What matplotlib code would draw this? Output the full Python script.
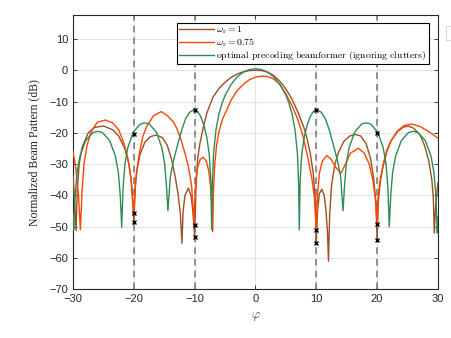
import numpy as np
import matplotlib
matplotlib.use('Agg')
import matplotlib.pyplot as plt
from matplotlib.patches import Rectangle

plt.rcParams['mathtext.fontset'] = 'cm'
plt.rcParams['font.family'] = ['Liberation Sans', 'DejaVu Sans']

# omega_r = 1 (brown)
brown_phi = [-30.0, -29.8, -29.5, -29.3, -29.0, -28.5, -27.5, -26.5, -25.0, -23.5, -22.5, -21.5, -20.8, -20.4, -20.0,
             -19.8, -19.5, -19.0, -18.2, -17.3, -16.3, -15.3, -14.5, -13.8, -13.2, -12.7, -12.35, -12.1,
             -11.9, -11.6, -11.05, -10.6, -10.3, -10.0,
             -9.8, -9.5, -9.1, -8.5, -8.0, -7.0, -6.0, -5.0, -4.0, -3.0, -2.0, -1.0, 0.0,
             1.0, 2.0, 3.0, 4.0, 5.0, 6.0, 7.0, 8.0, 8.5, 9.0, 9.5, 9.8, 10.0,
             10.2, 10.5, 10.9, 11.3, 11.6, 11.85, 12.0,
             12.2, 12.5, 13.0, 13.6, 14.5, 15.5, 16.4, 17.3, 18.2, 18.9, 19.4, 19.8, 20.0,
             20.2, 20.5, 21.0, 21.6, 22.3, 23.4, 24.3, 25.1, 26.0, 27.0, 27.8, 28.5, 29.0, 29.25, 29.4,
             29.6, 30.0]
brown_db = [-34, -40, -51.2, -38, -30, -24.5, -20, -18.3, -17.8, -19, -21, -25, -30, -36, -48.4,
            -38, -32, -27, -23, -21.2, -20.7, -21.5, -24, -28.5, -34, -40, -46, -55.3,
            -45, -40, -37.7, -40, -45, -53.2,
            -38, -28, -23, -17.5, -13.7, -8.6, -5.8, -3.8, -2.3, -1.2, -0.5, -0.1, 0.0,
            -0.1, -0.6, -1.7, -3.5, -6.0, -9.2, -13.5, -18.5, -22, -26.5, -33, -40, -55.3,
            -45, -39.5, -38, -40, -45, -52, -61,
            -46, -37, -30.5, -26.5, -22.8, -21, -20.5, -21, -23.5, -28, -34, -42, -54.2,
            -42, -36, -30.5, -26, -22.5, -19.5, -18.2, -17.8, -18.5, -20.5, -24, -29, -35, -41, -52,
            -44, -36]

# omega_r = 0.75 (orange)
orange_phi = [-30.0, -29.5, -29.1, -28.8, -28.5, -28.2, -27.7, -27.0, -26.0, -24.7, -23.5, -22.5, -21.7, -21.0, -20.5, -20.0,
              -19.7, -19.3, -19.0, -18.5, -17.9, -16.8, -15.5, -14.5, -13.5, -12.95, -12.2, -11.6, -11.0, -10.5, -10.1,
              -10.0, -9.8, -9.5, -9.1, -8.6, -8.1, -7.7, -7.4, -7.2, -7.04,
              -6.9, -6.7, -6.4, -6.0, -5.4, -4.73, -4.0, -3.0, -2.0, -1.0, 0.0, 1.0, 2.0, 3.0, 4.0, 5.0, 6.0, 7.0,
              7.8, 8.7, 9.3, 9.7, 10.0,
              10.2, 10.5, 11.0, 11.7, 12.4, 13.2, 14.06, 14.8, 15.6, 16.9, 17.9, 18.7, 19.3, 19.7, 20.0,
              20.2, 20.5, 21.0, 21.6, 22.3, 23.4, 24.5, 25.7, 27.0, 28.5, 30.0]
orange_db = [-26, -32, -40, -51, -38, -30, -24, -19.5, -16.6, -15.9, -16.8, -19, -23, -28, -34, -45.6,
             -35, -29, -25.5, -21, -18, -14.6, -13.2, -14.5, -16.5, -18.5, -22.5, -26.5, -31, -37, -49.4,
             -42, -35, -31, -28.5, -27.8, -29, -32, -37, -42, -51.6,
             -38, -30, -24, -19.5, -15.5, -12.7, -9.5, -6.5, -4.5, -3.0, -2.2, -1.9, -2.0, -2.8, -4.5, -7.5, -11.3, -15.9,
             -21, -28.7, -35, -41, -51.2,
             -40, -33, -29, -27.3, -28.3, -31, -32.9, -30, -26.5, -24.9, -26.5, -30, -35, -41, -49.1,
             -40, -35, -30, -25.5, -22.5, -19.3, -17.6, -17.2, -17.9, -19.6, -21.7]

# optimal precoding beamformer (green)
green_phi = [-30.0, -29.9, -29.66, -29.35, -28.87, -27.93, -26.74, -25.95, -25.16, -23.98, -23.03, -22.55, -22.24, -22.0,
             -21.77, -21.47, -21.01, -20.1, -18.96, -18.2, -17.44, -16.3, -15.39, -14.93, -14.63, -14.4,
             -14.0, -13.5, -12.9, -12.2, -11.5, -10.8, -10.1, -9.5, -9.0, -8.5, -8.0, -7.6, -7.35, -7.2,
             -7.1, -6.9, -6.5, -6.0, -5.5, -5.0, -4.0, -3.0, -2.0, -1.0, 0.0,
             1.0, 2.0, 3.0, 4.0, 5.0, 5.5, 6.0, 6.5, 6.9, 7.1,
             7.2, 7.35, 7.6, 8.0, 8.5, 9.0, 9.5, 10.1, 10.8, 11.5, 12.2, 12.9, 13.5, 14.0,
             14.4, 14.63, 14.93, 15.39, 16.3, 17.44, 18.2, 18.96, 20.1, 21.01, 21.47, 21.77,
             22.0, 22.24, 22.55, 23.03, 23.98, 25.16, 25.95, 26.74, 27.93, 28.87, 29.35, 29.66, 29.9, 30.0]
green_db = [-46, -51, -40, -32.7, -27.5, -22.5, -19.9, -19.5, -19.9, -22.5, -27.5, -32.7, -40, -50.2,
            -37.3, -30, -24.8, -19.8, -17.2, -16.8, -17.2, -19.8, -24.8, -30, -37.3, -44.9,
            -34, -29, -24.5, -19.5, -15.5, -13.4, -12.6, -13.2, -14.8, -17.5, -21.5, -27, -35, -51,
            -37, -26.7, -19, -13.9, -10.5, -8.0, -4.5, -2.1, -0.6, 0.2, 0.5,
            0.2, -0.6, -2.1, -4.5, -8.0, -10.5, -13.9, -19, -26.7, -37,
            -51, -35, -27, -21.5, -17.5, -14.8, -13.2, -12.6, -13.4, -15.5, -19.5, -24.5, -29, -34,
            -44.9, -37.3, -30, -24.8, -19.8, -17.2, -16.8, -17.2, -19.8, -24.8, -30, -37.3,
            -50, -40, -32.7, -27.5, -22.5, -19.9, -19.5, -19.9, -22.5, -27.5, -32.7, -40, -52, -47]

# clutter / target directions and the marked values
mark_phi = [-20, -20, -20, -10, -10, -10, 10, 10, 10, 20, 20, 20]
mark_db = [-20.3, -45.6, -48.4, -12.7, -49.4, -53.2, -12.7, -51.2, -55.3, -20.1, -49.1, -54.2]
vline_phi = [-20, -10, 10, 20]

fig = plt.figure(figsize=(4.51, 3.38), dpi=100)
ax = fig.add_axes([0.162, 0.144, 0.809, 0.812])

for v in vline_phi:
    ax.axvline(v, color='#7f7f7f', linestyle=(0, (4, 3)), linewidth=1.2, zorder=1)

ax.plot(brown_phi, brown_db, color='#9c4f24', linewidth=1.0, label=r'$\omega_{\mathrm{r}} = 1$', zorder=3)
ax.plot(orange_phi, orange_db, color='#ff4500', linewidth=1.0, label=r'$\omega_{\mathrm{r}} = 0.75$', zorder=3)
ax.plot(green_phi, green_db, color='#2e8b57', linewidth=1.0,
        label=r'$\mathrm{optimal\ precoding\ beamformer\ (ignoring\ clutters)}$', zorder=4)
ax.plot(mark_phi, mark_db, 'x', color='black', markersize=3.5, markeredgewidth=1.0, zorder=5)

ax.set_xlim(-30, 30)
ax.set_ylim(-70, 17.7)
ax.set_xticks(np.arange(-30, 31, 10))
ax.set_yticks(np.arange(-70, 11, 10))
ax.grid(True, color='#e3e3e3', linewidth=0.8, zorder=0)
ax.set_axisbelow(True)
ax.tick_params(direction='in', top=True, right=True, labelsize=8, length=3, width=0.6, colors='#262626')
for s in ax.spines.values():
    s.set_linewidth(0.8)
    s.set_color('#262626')

ax.set_xlabel(r'$\varphi$', fontsize=9, color='#444444')
ax.set_ylabel('Normalized Beam Pattern (dB)', family='Liberation Serif', fontsize=8.5, color='#262626')
ax.yaxis.set_label_coords(-0.09, 0.5)

leg = ax.legend(loc='upper right', bbox_to_anchor=(0.975, 0.971), fontsize=7.0, frameon=True, fancybox=False,
                edgecolor='black', framealpha=1, borderpad=0.2, labelspacing=0.0, handlelength=3.6,
                handletextpad=0.3, borderaxespad=0)
leg.get_frame().set_linewidth(0.8)

# fragment of another legend at the right edge
fig.patches.append(Rectangle((0.989, 0.882), 0.03, 0.04, transform=fig.transFigure,
                             facecolor='white', edgecolor='#d9d9d9', linewidth=0.8))

fig.savefig('out.png', dpi=100)
